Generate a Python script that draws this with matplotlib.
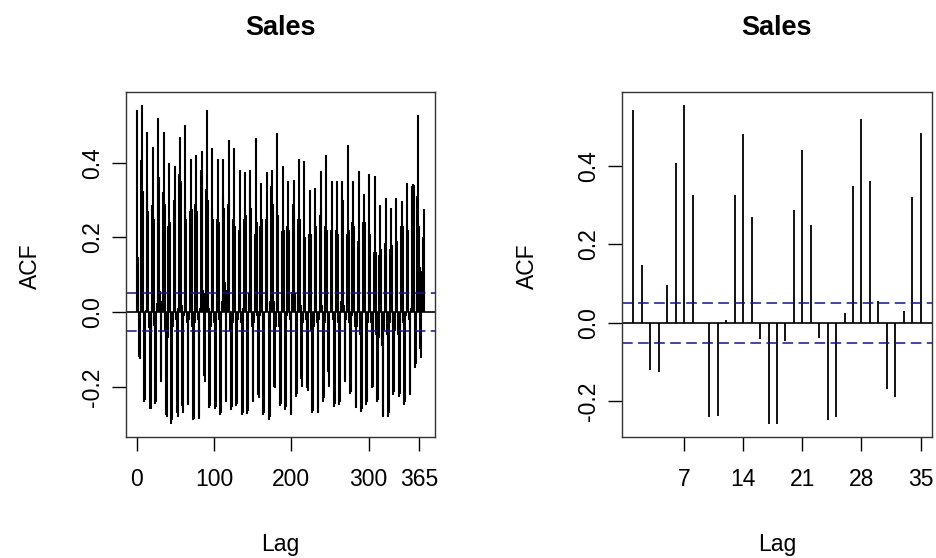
import matplotlib
matplotlib.use("Agg")
import matplotlib.pyplot as plt

# ACF values by week: each row holds lags 7k-6 ... 7k
acf_weeks = [
    [0.542, 0.148, -0.121, -0.125, 0.096, 0.408, 0.555],
    [0.325, 0.000, -0.240, -0.236, 0.006, 0.325, 0.481],
    [0.270, -0.042, -0.258, -0.258, -0.045, 0.286, 0.441],
    [0.250, -0.038, -0.247, -0.240, 0.025, 0.349, 0.519],
    [0.362, 0.056, -0.169, -0.188, 0.030, 0.321, 0.483],
    [0.290, -0.050, -0.275, -0.280, -0.070, 0.230, 0.400],
    [0.240, -0.065, -0.300, -0.290, -0.040, 0.300, 0.390],
    [0.300, -0.020, -0.270, -0.280, 0.010, 0.370, 0.470],
    [0.350, 0.020, -0.250, -0.270, -0.010, 0.300, 0.500],
    [0.250, -0.030, -0.248, -0.240, -0.020, 0.270, 0.410],
    [0.275, -0.040, -0.290, -0.285, -0.030, 0.290, 0.420],
    [0.270, -0.020, -0.285, -0.275, 0.010, 0.380, 0.430],
    [0.360, 0.060, -0.170, -0.187, 0.050, 0.330, 0.540],
    [0.300, 0.010, -0.256, -0.250, -0.040, 0.280, 0.440],
    [0.250, -0.030, -0.258, -0.255, -0.020, 0.250, 0.410],
    [0.240, -0.020, -0.276, -0.270, 0.030, 0.310, 0.410],
    [0.280, 0.080, -0.220, -0.240, 0.060, 0.290, 0.460],
    [0.300, -0.050, -0.263, -0.255, -0.030, 0.250, 0.440],
    [0.230, 0.000, -0.250, -0.245, -0.020, 0.220, 0.380],
    [0.230, -0.030, -0.276, -0.270, 0.010, 0.250, 0.376],
    [0.260, 0.030, -0.272, -0.265, 0.050, 0.330, 0.380],
    [0.280, -0.040, -0.240, -0.230, -0.030, 0.210, 0.467],
    [0.240, -0.010, -0.222, -0.230, -0.010, 0.230, 0.346],
    [0.250, -0.020, -0.276, -0.270, 0.000, 0.250, 0.376],
    [0.240, 0.000, -0.290, -0.280, 0.030, 0.337, 0.380],
    [0.290, 0.030, -0.200, -0.204, -0.040, 0.270, 0.480],
    [0.260, -0.040, -0.250, -0.245, 0.000, 0.216, 0.390],
    [0.220, 0.000, -0.262, -0.255, -0.010, 0.230, 0.350],
    [0.220, -0.020, -0.274, -0.270, 0.055, 0.290, 0.354],
    [0.270, 0.050, -0.226, -0.220, 0.040, 0.250, 0.410],
    [0.250, 0.020, -0.180, -0.200, -0.030, 0.200, 0.404],
    [0.200, -0.020, -0.204, -0.210, -0.010, 0.210, 0.326],
    [0.210, -0.050, -0.270, -0.265, -0.040, 0.240, 0.333],
    [0.230, -0.030, -0.270, -0.260, -0.020, 0.260, 0.377],
    [0.280, 0.020, -0.240, -0.230, -0.030, 0.230, 0.420],
    [0.220, -0.010, -0.160, -0.200, 0.000, 0.220, 0.350],
    [0.220, -0.020, -0.253, -0.245, -0.010, 0.220, 0.350],
    [0.210, -0.030, -0.249, -0.240, 0.030, 0.306, 0.350],
    [0.300, 0.020, -0.186, -0.180, -0.020, 0.210, 0.447],
    [0.220, -0.030, -0.220, -0.215, -0.010, 0.240, 0.350],
    [0.230, -0.040, -0.256, -0.250, -0.040, 0.190, 0.377],
    [0.190, -0.060, -0.267, -0.260, -0.020, 0.240, 0.317],
    [0.240, -0.010, -0.249, -0.240, -0.030, 0.220, 0.371],
    [0.210, -0.030, -0.204, -0.200, -0.050, 0.160, 0.364],
    [0.160, -0.060, -0.240, -0.235, -0.070, 0.154, 0.288],
    [0.170, -0.090, -0.280, -0.275, -0.050, 0.185, 0.306],
    [0.170, -0.060, -0.280, -0.270, -0.030, 0.170, 0.279],
    [0.180, -0.040, -0.222, -0.215, -0.050, 0.180, 0.306],
    [0.190, -0.060, -0.226, -0.220, -0.040, 0.230, 0.297],
    [0.230, -0.030, -0.249, -0.240, -0.010, 0.230, 0.346],
    [0.220, -0.020, -0.222, -0.215, 0.010, 0.337, 0.342],
    [0.340, 0.050, -0.150, -0.140, 0.060, 0.310, 0.527],
    [0.230, 0.120, -0.100, -0.123, 0.110, 0.200, 0.277],
]
acf_long = [v for row in acf_weeks for v in row]
lags_long = list(range(1, len(acf_long) + 1))

n_short = 35
acf_short = acf_long[:n_short]
lags_short = lags_long[:n_short]

ci = 0.0513
title = "Sales"
xticks_long = [0, 100, 200, 300, 365]
xticks_short = [7, 14, 21, 28, 35]
yticks = [-0.2, 0.0, 0.2, 0.4]
ytick_labels = ["-0.2", "0.0", "0.2", "0.4"]

plt.rcParams["font.family"] = ["Liberation Sans", "DejaVu Sans"]
FS, TFS = 16.5, 19.5

W, H = 936, 558
fig = plt.figure(figsize=(W / 100, H / 100), dpi=100)

ax_l = fig.add_axes([126 / W, 1 - 437 / H, 309 / W, 345 / H])
ax_r = fig.add_axes([622 / W, 1 - 437 / H, 310 / W, 345 / H])
CI_COLOR = "#14148c"


def draw(ax, lags, vals, xticks, lw):
    ax.vlines(lags, 0, vals, colors="black", linewidth=lw)
    ax.axhline(0, color="black", linewidth=1.2)
    ax.axhline(ci, color=CI_COLOR, linewidth=1.1, linestyle=(0, (7, 3.5)))
    ax.axhline(-ci, color=CI_COLOR, linewidth=1.1, linestyle=(0, (7, 3.5)))
    lo = min(min(vals), -ci)
    hi = max(max(vals), ci)
    d = 0.04 * (hi - lo)
    ax.set_ylim(lo - d, hi + d)
    x0, x1 = min(lags), max(lags)
    dx = 0.04 * (x1 - x0)
    ax.set_xlim(x0 - dx, x1 + dx)
    ax.set_xticks(xticks)
    ax.set_xticklabels([str(t) for t in xticks], fontsize=FS)
    ax.set_yticks(yticks)
    ax.set_yticklabels(ytick_labels, fontsize=FS, rotation=90, va="center")
    ax.tick_params(direction="out", length=10, width=1.0, colors="black")
    ax.tick_params(axis="x", pad=12)
    ax.tick_params(axis="y", pad=6)
    for s in ax.spines.values():
        s.set_linewidth(1.0)
        s.set_color("#333333")
    pos = ax.get_position()
    cx = (pos.x0 + pos.x1) / 2
    fig.text(cx, 1 - 28 / H, title, ha="center", va="center", fontsize=TFS, fontweight="bold")
    fig.text(cx, 1 - 544 / H, "Lag", ha="center", va="center", fontsize=FS)


draw(ax_l, lags_long, acf_long, xticks_long, 1.5)
draw(ax_r, lags_short, acf_short, xticks_short, 1.3)
fig.text(30 / W, 1 - 266 / H, "ACF", rotation=90, ha="center", va="center", fontsize=FS)
fig.text(527 / W, 1 - 266 / H, "ACF", rotation=90, ha="center", va="center", fontsize=FS)

fig.savefig("out.png", dpi=100)
